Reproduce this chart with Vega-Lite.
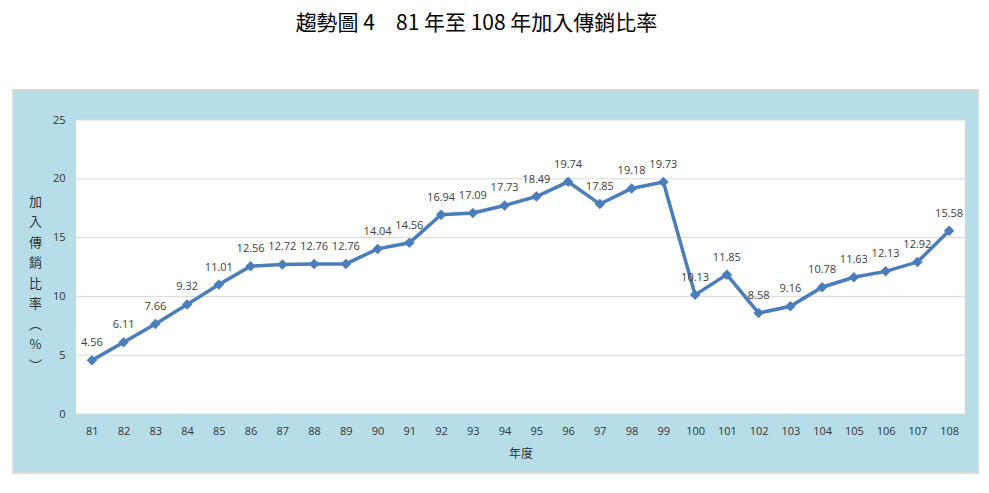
{
  "$schema": "https://vega.github.io/schema/vega-lite/v6.json",
  "width": 889,
  "height": 294,
  "autosize": {"type": "none"},
  "padding": {"left": 76, "top": 120, "right": 24, "bottom": 79},
  "background": "white",
  "config": {"view": {"stroke": null}, "axis": {"labelOverlap": false, "labelBound": false}, "axisX": {"labelOverlap": false, "labelFlush": false}},
  "title": {
    "text": "趨勢圖 4　81 年至 108 年加入傳銷比率",
    "font": "Noto Sans CJK TC",
    "fontSize": 21,
    "fontWeight": "normal",
    "color": "#000000",
    "anchor": "middle",
    "dx": -44,
    "offset": 55
  },
  "data": {
    "values": [
      {"year": 81, "rate": 4.56}, {"year": 82, "rate": 6.11}, {"year": 83, "rate": 7.66},
      {"year": 84, "rate": 9.32}, {"year": 85, "rate": 11.01}, {"year": 86, "rate": 12.56},
      {"year": 87, "rate": 12.72}, {"year": 88, "rate": 12.76}, {"year": 89, "rate": 12.76},
      {"year": 90, "rate": 14.04}, {"year": 91, "rate": 14.56}, {"year": 92, "rate": 16.94},
      {"year": 93, "rate": 17.09}, {"year": 94, "rate": 17.73}, {"year": 95, "rate": 18.49},
      {"year": 96, "rate": 19.74}, {"year": 97, "rate": 17.85}, {"year": 98, "rate": 19.18},
      {"year": 99, "rate": 19.73}, {"year": 100, "rate": 10.13}, {"year": 101, "rate": 11.85},
      {"year": 102, "rate": 8.58}, {"year": 103, "rate": 9.16}, {"year": 104, "rate": 10.78},
      {"year": 105, "rate": 11.63}, {"year": 106, "rate": 12.13}, {"year": 107, "rate": 12.92},
      {"year": 108, "rate": 15.58}
    ]
  },
  "layer": [
    {
      "data": {"values": [{"p": 1}]},
      "mark": {"type": "rect", "fill": "#B7DDE8", "stroke": "#D9D9D9", "strokeWidth": 2, "clip": false},
      "encoding": {
        "x": {
          "datum": 78.52, "type": "quantitative",
          "scale": {"domain": [80.5, 108.5], "nice": false, "zero": false},
          "axis": {
            "values": [81,82,83,84,85,86,87,88,89,90,91,92,93,94,95,96,97,98,99,100,101,102,103,104,105,106,107,108],
            "format": "d", "labelFont": "Open Sans", "labelFontSize": 11, "labelColor": "#333333",
            "labelOverlap": false, "tickCount": 28,
            "ticks": false, "domain": false, "grid": false, "labelPadding": 11, "zindex": 1,
            "title": "年度", "titleFont": "Noto Sans CJK TC", "titleFontSize": 12, "titleFontWeight": "normal",
            "titleColor": "#333333", "titlePadding": 12
          }
        },
        "x2": {"datum": 108.91},
        "y": {
          "datum": -5.02, "type": "quantitative",
          "scale": {"domain": [0, 25], "nice": false, "zero": false},
          "axis": {
            "values": [0, 5, 10, 15, 20, 25],
            "labelFont": "Open Sans", "labelFontSize": 11, "labelColor": "#333333",
            "ticks": false, "domain": false, "grid": false, "labelPadding": 11, "zindex": 1,
            "title": ["加", "入", "傳", "銷", "比", "率", "︵", "%", "︶"],
            "titleAngle": 0, "titleX": -41, "titleY": 75, "titleBaseline": "top", "titleAlign": "center",
            "titleLineHeight": 20.5, "titleFont": "Noto Sans CJK TC", "titleFontSize": 13,
            "titleFontWeight": "normal", "titleColor": "#333333"
          }
        },
        "y2": {"datum": 27.55}
      }
    },
    {
      "data": {"values": [{"p": 1}]},
      "mark": {"type": "rect", "fill": "white", "clip": false},
      "encoding": {
        "x": {"datum": 80.5, "type": "quantitative"},
        "x2": {"datum": 108.5},
        "y": {"datum": 0, "type": "quantitative"},
        "y2": {"datum": 25}
      }
    },
    {
      "data": {"values": [{"g": 0}, {"g": 5}, {"g": 10}, {"g": 15}, {"g": 20}, {"g": 25}]},
      "mark": {"type": "rule", "color": "#D9D9D9", "strokeWidth": 1},
      "encoding": {
        "y": {"field": "g", "type": "quantitative"}
      }
    },
    {
      "mark": {"type": "line", "color": "#4A7EBB", "strokeWidth": 3.5},
      "encoding": {
        "x": {"field": "year", "type": "quantitative"},
        "y": {"field": "rate", "type": "quantitative"}
      }
    },
    {
      "mark": {"type": "point", "shape": "diamond", "filled": true, "size": 110, "color": "#4A7EBB", "opacity": 1},
      "encoding": {
        "x": {"field": "year", "type": "quantitative"},
        "y": {"field": "rate", "type": "quantitative"}
      }
    },
    {
      "mark": {"type": "text", "font": "Open Sans", "fontSize": 11, "color": "#404040", "dy": -17, "baseline": "middle"},
      "encoding": {
        "x": {"field": "year", "type": "quantitative"},
        "y": {"field": "rate", "type": "quantitative"},
        "text": {"field": "rate", "type": "quantitative", "format": ".2f"}
      }
    }
  ]
}
